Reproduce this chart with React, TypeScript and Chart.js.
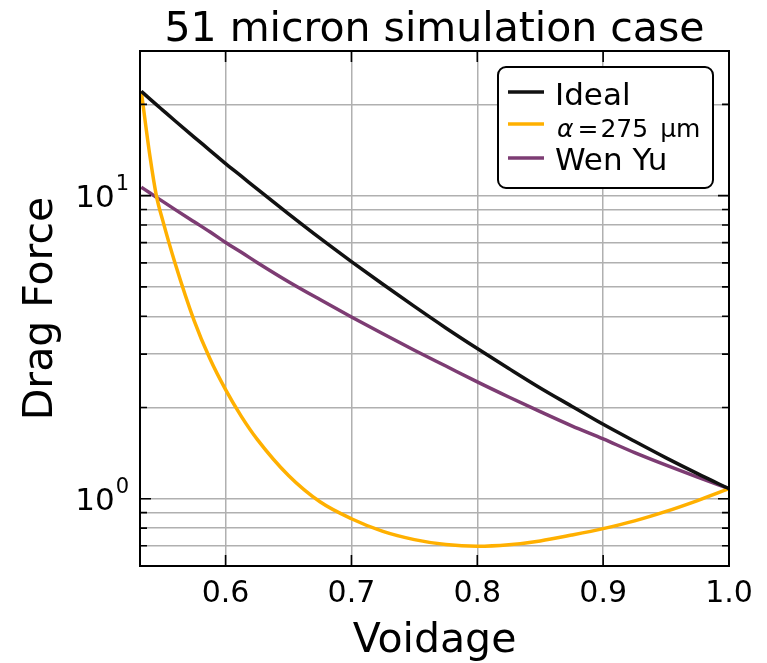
import React, { useEffect, useRef } from "react";
import { Chart, registerables } from "chart.js";

Chart.register(...registerables);

// Voidage samples and drag force for each model
const voidage = [0.533, 0.54, 0.545, 0.55, 0.56, 0.575, 0.5875, 0.6, 0.6125, 0.625, 0.65, 0.675, 0.7, 0.725, 0.75, 0.775, 0.8, 0.825, 0.85, 0.875, 0.9, 0.925, 0.95, 0.975, 1.0];
const idealForce = [22.1, 20.82, 19.96, 19.15, 17.63, 15.6, 14.11, 12.75, 11.59, 10.52, 8.71, 7.24, 6.06, 5.1, 4.31, 3.66, 3.13, 2.69, 2.32, 2.02, 1.76, 1.547, 1.364, 1.21, 1.079];
const alphaForce = [22.1, 13.4, 10.0, 8.3, 5.96, 3.87, 2.9, 2.29, 1.87, 1.573, 1.193, 0.977, 0.859, 0.78, 0.733, 0.706, 0.697, 0.705, 0.726, 0.759, 0.797, 0.845, 0.908, 0.986, 1.079];
const wenYuForce = [10.66, 10.2, 9.88, 9.57, 8.99, 8.2, 7.6, 7.0, 6.5, 6.02, 5.2, 4.54, 3.98, 3.5, 3.09, 2.74, 2.43, 2.166, 1.938, 1.74, 1.575, 1.42, 1.291, 1.179, 1.08];

const seriesLabels = ["Ideal", "α=275 μm", "Wen Yu"];
const seriesColors = ["#111111", "#ffb000", "#7d3c73"];

const xTicks = [0.6, 0.7, 0.8, 0.9, 1.0];
const xTickLabels = ["0.6", "0.7", "0.8", "0.9", "1.0"];
const yGridValues = [0.7, 0.8, 0.9, 1, 2, 3, 4, 5, 6, 7, 8, 9, 10, 20];
const yMajorValues = [1, 10];
const yMajorExponents = ["0", "1"];

const FONT = "'DejaVu Sans', sans-serif";

const pairs = (ys: number[]) => voidage.map((x, i) => ({ x, y: ys[i] }));

function drawLegendLabel(ctx: CanvasRenderingContext2D, text: string, x: number, y: number) {
  if (text.startsWith("α")) {
    const rest = text.slice(1);
    const parts = rest.split(" ");
    const eq = parts[0];
    const unit = parts.slice(1).join(" ");
    ctx.font = `italic 25px ${FONT}`;
    ctx.fillText("α", x, y);
    let cx = x + ctx.measureText("α").width + 4;
    ctx.font = `25px ${FONT}`;
    ctx.fillText("=", cx, y);
    cx += ctx.measureText("=").width + 2;
    const num = eq.slice(1);
    ctx.fillText(num, cx, y);
    cx += ctx.measureText(num).width + 12;
    ctx.fillText(unit, cx, y);
  } else {
    ctx.font = `31px ${FONT}`;
    ctx.fillText(text, x, y);
  }
}

const decorPlugin = {
  id: "decor",
  afterDraw(chart: any) {
    const { ctx, chartArea: a, scales } = chart;
    const xs = scales.x;
    const ys = scales.y;
    ctx.save();

    // frame
    ctx.strokeStyle = "#000";
    ctx.lineWidth = 2;
    ctx.strokeRect(a.left, a.top, a.right - a.left, a.bottom - a.top);

    // inward ticks on all four sides
    ctx.lineWidth = 1.6;
    ctx.beginPath();
    xTicks.forEach((v) => {
      const px = xs.getPixelForValue(v);
      ctx.moveTo(px, a.bottom);
      ctx.lineTo(px, a.bottom - 11);
      ctx.moveTo(px, a.top);
      ctx.lineTo(px, a.top + 11);
    });
    yGridValues.forEach((v) => {
      const py = ys.getPixelForValue(v);
      const len = yMajorValues.includes(v) ? 11 : 7;
      ctx.moveTo(a.left, py);
      ctx.lineTo(a.left + len, py);
      ctx.moveTo(a.right, py);
      ctx.lineTo(a.right - len, py);
    });
    ctx.stroke();

    // y tick labels with exponents
    ctx.fillStyle = "#000";
    ctx.textBaseline = "alphabetic";
    yMajorValues.forEach((v, i) => {
      const py = ys.getPixelForValue(v);
      const exp = yMajorExponents[i];
      ctx.font = `21px ${FONT}`;
      ctx.textAlign = "right";
      const right = a.left - 11;
      ctx.fillText(exp, right, py - 6);
      const ew = ctx.measureText(exp).width;
      ctx.font = `31px ${FONT}`;
      ctx.fillText(String(10), right - ew - 1, py + 11);
    });

    // title and axis titles
    const cx = (a.left + a.right) / 2;
    const cy = (a.top + a.bottom) / 2;
    ctx.textAlign = "center";
    ctx.font = `41px ${FONT}`;
    ctx.fillText("51 micron simulation case", cx, a.top - 10);
    ctx.fillText("Voidage", cx, a.bottom + 86);
    ctx.save();
    ctx.translate(a.left - 88, cy);
    ctx.rotate(-Math.PI / 2);
    ctx.fillText("Drag Force", 0, 0);
    ctx.restore();

    // legend box
    const lx = a.right - 231;
    const ly = a.top + 16;
    const lw = 215;
    const lh = 121;
    ctx.beginPath();
    ctx.roundRect(lx, ly, lw, lh, 8);
    ctx.fillStyle = "#fff";
    ctx.fill();
    ctx.lineWidth = 2;
    ctx.strokeStyle = "#000";
    ctx.stroke();

    const rowY = [ly + 25, ly + 57, ly + 91];
    const baseY = [ly + 38, ly + 70, ly + 103];
    chart.data.datasets.forEach((ds: any, i: number) => {
      ctx.strokeStyle = ds.borderColor;
      ctx.lineWidth = 3.5;
      ctx.beginPath();
      ctx.moveTo(lx + 10, rowY[i]);
      ctx.lineTo(lx + 46, rowY[i]);
      ctx.stroke();
      ctx.fillStyle = "#000";
      ctx.textAlign = "left";
      drawLegendLabel(ctx, ds.label, lx + (i === 1 ? 59 : 57), baseY[i]);
    });

    ctx.restore();
  },
};

export default function App() {
  const canvasRef = useRef<HTMLCanvasElement | null>(null);

  useEffect(() => {
    document.body.style.margin = "0";
    const canvas = canvasRef.current;
    if (!canvas) return;
    const chart = new Chart(canvas, {
      type: "line",
      data: {
        datasets: [idealForce, alphaForce, wenYuForce].map((ys, i) => ({
          label: seriesLabels[i],
          data: pairs(ys),
          borderColor: seriesColors[i],
          backgroundColor: seriesColors[i],
          borderWidth: 3.5,
          pointRadius: 0,
          cubicInterpolationMode: "monotone" as const,
          fill: false,
        })),
      },
      options: {
        animation: false,
        responsive: false,
        devicePixelRatio: 1,
        layout: { padding: { top: 51, right: 38, left: 0, bottom: 0 } },
        plugins: {
          legend: { display: false },
          title: { display: false },
          tooltip: { enabled: false },
        },
        scales: {
          x: {
            type: "linear",
            min: 0.532,
            max: 1.0,
            afterBuildTicks: (s: any) => {
              s.ticks = xTicks.map((v) => ({ value: v }));
            },
            afterFit: (s: any) => {
              s.height = 97;
            },
            ticks: {
              callback: (_v: any, i: number) => xTickLabels[i],
              font: { family: FONT, size: 30 },
              color: "#000",
              padding: 10,
              maxRotation: 0,
              autoSkip: false,
            },
            grid: { color: "#b0b0b0", lineWidth: 1.5, drawTicks: false },
            border: { display: false },
          },
          y: {
            type: "logarithmic",
            min: 0.607,
            max: 30,
            afterBuildTicks: (s: any) => {
              s.ticks = yGridValues.map((v) => ({ value: v }));
            },
            afterFit: (s: any) => {
              s.width = 140;
            },
            ticks: {
              callback: () => "",
              autoSkip: false,
              font: { family: FONT, size: 30 },
            },
            grid: { color: "#b0b0b0", lineWidth: 1.5, drawTicks: false },
            border: { display: false },
          },
        },
      },
      plugins: [decorPlugin],
    });
    return () => chart.destroy();
  }, []);

  return (
    <div style={{ position: "absolute", left: 0, top: 0, width: 767, height: 663, background: "#fff" }}>
      <canvas ref={canvasRef} width={767} height={663} />
    </div>
  );
}
